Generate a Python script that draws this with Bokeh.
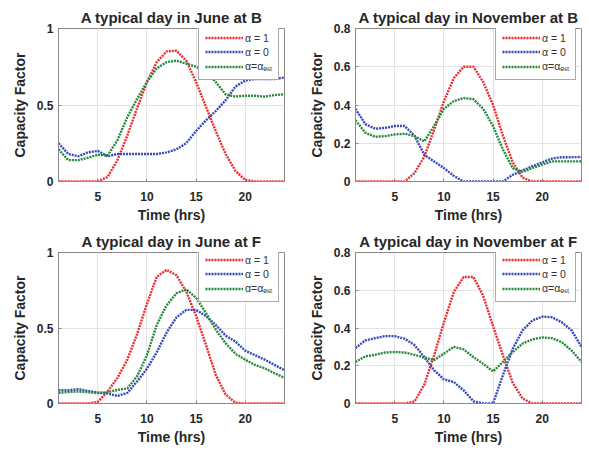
from bokeh.plotting import figure
from bokeh.layouts import column, row
from bokeh.models import Range1d, FixedTicker, Legend, CustomJSTickFormatter
from bokeh.embed import file_html
from bokeh.resources import INLINE

hours = list(range(1, 25))

# June at B
june_b_a1 = [0, 0, 0, 0, 0, 0.03, 0.14, 0.30, 0.48, 0.65, 0.78, 0.85, 0.855, 0.79, 0.65, 0.49, 0.33, 0.18, 0.07, 0.01, 0, 0, 0, 0]
june_b_a0 = [0.25, 0.18, 0.165, 0.19, 0.20, 0.165, 0.18, 0.18, 0.18, 0.18, 0.18, 0.19, 0.21, 0.25, 0.33, 0.40, 0.46, 0.53, 0.62, 0.66, 0.67, 0.67, 0.67, 0.68]
june_b_est = [0.21, 0.14, 0.14, 0.155, 0.175, 0.17, 0.27, 0.42, 0.54, 0.65, 0.74, 0.78, 0.79, 0.77, 0.75, 0.72, 0.65, 0.57, 0.555, 0.56, 0.56, 0.555, 0.565, 0.57]

# November at B
nov_b_a1 = [0, 0, 0, 0, 0, 0, 0.044, 0.13, 0.27, 0.42, 0.54, 0.60, 0.60, 0.52, 0.40, 0.24, 0.10, 0.02, 0, 0, 0, 0, 0, 0]
nov_b_a0 = [0.38, 0.30, 0.276, 0.28, 0.29, 0.29, 0.24, 0.14, 0.105, 0.07, 0.03, 0, 0, 0, 0, 0, 0.035, 0.058, 0.08, 0.10, 0.12, 0.127, 0.127, 0.128]
nov_b_est = [0.32, 0.255, 0.234, 0.237, 0.246, 0.25, 0.237, 0.21, 0.29, 0.38, 0.42, 0.436, 0.43, 0.38, 0.29, 0.167, 0.07, 0.05, 0.07, 0.088, 0.105, 0.105, 0.105, 0.105]

# June at F
june_f_a1 = [0, 0, 0, 0, 0.01, 0.08, 0.17, 0.29, 0.46, 0.66, 0.84, 0.885, 0.85, 0.74, 0.58, 0.39, 0.19, 0.06, 0.005, 0, 0, 0, 0, 0]
june_f_a0 = [0.088, 0.088, 0.095, 0.083, 0.073, 0.066, 0.05, 0.07, 0.146, 0.23, 0.34, 0.47, 0.57, 0.62, 0.62, 0.58, 0.52, 0.45, 0.41, 0.35, 0.32, 0.29, 0.255, 0.22]
june_f_est = [0.07, 0.076, 0.08, 0.074, 0.07, 0.074, 0.09, 0.10, 0.18, 0.32, 0.52, 0.65, 0.73, 0.756, 0.70, 0.60, 0.49, 0.40, 0.33, 0.29, 0.255, 0.233, 0.20, 0.17]

# November at F
nov_f_a1 = [0, 0, 0, 0, 0, 0, 0.01, 0.10, 0.255, 0.43, 0.59, 0.67, 0.67, 0.57, 0.41, 0.255, 0.11, 0.026, 0, 0, 0, 0, 0, 0]
nov_f_a0 = [0.294, 0.334, 0.346, 0.357, 0.357, 0.343, 0.31, 0.246, 0.176, 0.128, 0.114, 0.07, 0.012, 0, 0, 0.15, 0.29, 0.387, 0.44, 0.46, 0.457, 0.43, 0.387, 0.30]
nov_f_est = [0.22, 0.25, 0.258, 0.27, 0.273, 0.27, 0.258, 0.243, 0.23, 0.264, 0.30, 0.287, 0.246, 0.21, 0.17, 0.22, 0.273, 0.317, 0.34, 0.35, 0.346, 0.325, 0.28, 0.22]

june_ticks = [0, 0.5, 1]
nov_ticks = [0, 0.2, 0.4, 0.6, 0.8]
x_ticks = [5, 10, 15, 20]
labels = ["\u03b1 = 1", "\u03b1 = 0", "\u03b1=\u03b1\u2091\u209b\u209c"]

RED = "#ec2b2f"
BLUE = "#3549b8"
GREEN = "#25883a"
FONT = "Liberation Sans"
TXT = "#262626"

FRAME_W = 226
FRAME_H = 153


def make(title, a1, a0, aest, ymax, yticks, width, height, bl, br, bt, bb):
    p = figure(width=width, height=height, x_range=Range1d(1, 24), y_range=Range1d(0, ymax),
               output_backend="svg", toolbar_location=None,
               min_border_left=bl, min_border_right=br, min_border_top=bt, min_border_bottom=bb)
    p.title.text = title
    p.title.align = "center"
    p.title.text_font = FONT
    p.title.text_font_size = "15px"
    p.title.text_font_style = "bold"
    p.title.text_color = TXT
    p.title.standoff = 5
    p.title.offset = 0

    p.outline_line_color = "#8a8a8a"
    p.outline_line_width = 1
    p.background_fill_color = "white"
    p.border_fill_color = "white"

    for ax in (p.xaxis, p.yaxis):
        ax.axis_line_color = "#8a8a8a"
        ax.major_tick_in = 3
        ax.major_tick_out = 0
        ax.major_tick_line_color = "#8a8a8a"
        ax.minor_tick_line_color = None
        ax.major_label_text_font = FONT
        ax.major_label_text_font_size = "12px"
        ax.major_label_text_font_style = "bold"
        ax.major_label_text_color = TXT
        ax.axis_label_text_font = FONT
        ax.axis_label_text_font_size = "14px"
        ax.axis_label_text_font_style = "bold"
        ax.axis_label_text_color = TXT
        ax.formatter = CustomJSTickFormatter(code="return String(Math.round(tick*10)/10);")

    p.xaxis.ticker = FixedTicker(ticks=x_ticks)
    p.yaxis.ticker = FixedTicker(ticks=yticks)
    p.xaxis.axis_label = "Time (hrs)"
    p.yaxis.axis_label = "Capacity Factor"
    p.xaxis.major_label_standoff = 10
    p.xaxis.axis_label_standoff = 3
    p.yaxis.major_label_standoff = 5
    p.yaxis.axis_label_standoff = 6

    p.xgrid.grid_line_color = "#e3e3e3"
    p.ygrid.grid_line_color = "#e3e3e3"

    lw = 2.4
    dash = "2 1"
    r1 = p.line(hours, a1, line_color=RED, line_width=lw, line_dash=dash)
    r0 = p.line(hours, a0, line_color=BLUE, line_width=lw, line_dash=dash)
    re = p.line(hours, aest, line_color=GREEN, line_width=lw, line_dash=dash)

    leg = Legend(items=[(labels[0], [r1]), (labels[1], [r0]), (labels[2], [re])],
                 location=(FRAME_W - 86, FRAME_H - 52), margin=0, padding=6, spacing=1,
                 glyph_width=38, glyph_height=13, label_standoff=2,
                 label_text_font=FONT, label_text_font_size="10.5px", label_text_color="#333333",
                 border_line_color="#555555", border_line_width=1,
                 background_fill_color="white", background_fill_alpha=1.0)
    p.add_layout(leg)
    return p


p1 = make("A typical day in June at B", june_b_a1, june_b_a0, june_b_est, 1, june_ticks,
          305, 228, 58, 21, 28, 47)
p2 = make("A typical day in November at B", nov_b_a1, nov_b_a0, nov_b_est, 0.8, nov_ticks,
          283, 228, 50, 7, 28, 47)
p3 = make("A typical day in June at F", june_f_a1, june_f_a0, june_f_est, 1, june_ticks,
          305, 222, 58, 21, 22, 47)
p4 = make("A typical day in November at F", nov_f_a1, nov_f_a0, nov_f_est, 0.8, nov_ticks,
          283, 222, 50, 7, 22, 47)

layout = column(row(p1, p2), row(p3, p4))
open("out.html", "w").write(file_html(layout, INLINE))
